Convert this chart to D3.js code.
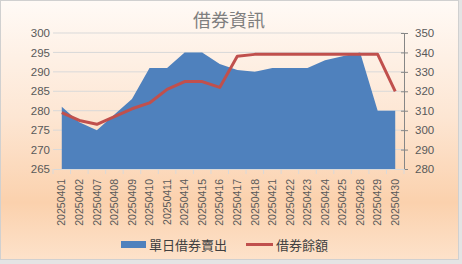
<!DOCTYPE html>
<html><head><meta charset="utf-8">
<script src="https://cdn.jsdelivr.net/npm/d3@7/dist/d3.min.js"></script>
<style>
html,body{margin:0;padding:0;background:#e4e4e4;}
svg{display:block;}
text{font-family:"Liberation Sans","DejaVu Sans",sans-serif;}
.cjk{font-family:"Noto Sans CJK TC","Noto Sans CJK SC",sans-serif;}
</style></head>
<body>
<script>
const title = "借券資訊";
const categories = ["20250401","20250402","20250407","20250408","20250409","20250410","20250411","20250414","20250415","20250416","20250417","20250418","20250421","20250422","20250423","20250424","20250425","20250428","20250429","20250430"];
const dailySell = [281,277,275,279,283,291,291,295,295,292,290.5,290,291,291,291,293,294,295,280,280];
const balance = [309,305,303,307,311,314,321,325,325,322,338,339,339,339,339,339,339,339,339,320];
const seriesNames = ["單日借券賣出","借券餘額"];
const leftTicks = [265,270,275,280,285,290,295,300];
const rightTicks = [280,290,300,310,320,330,340,350];

const W=462,H=264;
const svg=d3.select("body").append("svg").attr("width",W).attr("height",H);
const defs=svg.append("defs");
const g=defs.append("linearGradient").attr("id","bg").attr("x1",0).attr("y1",0).attr("x2",0).attr("y2",1);
g.append("stop").attr("offset","0").attr("stop-color","#fffaf6");
g.append("stop").attr("offset","0.45").attr("stop-color","#fde6d3");
g.append("stop").attr("offset","0.78").attr("stop-color","#fbd1ad");
g.append("stop").attr("offset","1").attr("stop-color","#fde2ca");
svg.append("rect").attr("x",0.5).attr("y",0.5).attr("width",458).attr("height",259)
  .attr("fill","url(#bg)").attr("stroke","#d0d0d0");

const x=d3.scaleBand().domain(categories).range([53,404]).padding(0);
const yL=d3.scaleLinear().domain([265,300]).range([169,33]);
const yR=d3.scaleLinear().domain([280,350]).range([169,33]);
const cx=d=>x(d)+x.bandwidth()/2;

// gridlines
svg.append("g").selectAll("line").data(leftTicks.slice(1)).join("line")
  .attr("x1",53).attr("x2",404).attr("y1",d=>yL(d)).attr("y2",d=>yL(d))
  .attr("stroke","#d9d9d9").attr("stroke-width",1);

// area
const area=d3.area().x((d,i)=>cx(categories[i])).y0(yL(265)).y1(d=>yL(d));
svg.append("path").datum(dailySell).attr("d",area).attr("fill","#4f81bd");

// line
const line=d3.line().x((d,i)=>cx(categories[i])).y(d=>yR(d));
svg.append("path").datum(balance).attr("d",line).attr("fill","none")
  .attr("stroke","#c0504d").attr("stroke-width",3).attr("stroke-linejoin","round");

// left axis
const axL=svg.append("g").attr("transform","translate(53,0)")
  .call(d3.axisLeft(yL).tickValues(leftTicks).tickSize(0).tickPadding(3));
axL.select(".domain").remove();
axL.selectAll("text").attr("font-size",11.5).attr("fill","#595959");

// right axis
const axR=svg.append("g").attr("transform","translate(404,0)")
  .call(d3.axisRight(yR).tickValues(rightTicks).tickSize(4).tickPadding(7));
axR.select(".domain").attr("stroke","#868686");
axR.selectAll(".tick line").attr("stroke","#868686").attr("x1",-3);
axR.selectAll("text").attr("font-size",11.5).attr("fill","#595959");

// bottom axis
const axB=svg.append("g").attr("transform","translate(0,169)")
  .call(d3.axisBottom(x).tickSize(0).tickPadding(0));
axB.select(".domain").attr("stroke","#d9d9d9");
axB.selectAll("text").attr("font-size",10.5).attr("fill","#595959")
  .attr("transform","rotate(-90)").attr("text-anchor","end").attr("dx","-10").attr("dy","0.35em").attr("y",0).attr("x",0);
svg.append("g").selectAll("line").data(d3.range(categories.length+1)).join("line")
  .attr("x1",i=>53+i*x.bandwidth()).attr("x2",i=>53+i*x.bandwidth())
  .attr("y1",169).attr("y2",174).attr("stroke","#d9d9d9");

// title
svg.append("text").attr("class","cjk").attr("x",229).attr("y",27).attr("text-anchor","middle")
  .attr("font-size",18).attr("fill","#7f7f7f").text(title);

// legend
const lg=svg.append("g");
lg.append("rect").attr("x",121).attr("y",241).attr("width",25).attr("height",7).attr("fill","#4f81bd");
lg.append("text").attr("class","cjk").attr("x",149).attr("y",249.5).attr("font-size",13).attr("fill","#404040").text(seriesNames[0]);
lg.append("line").attr("x1",246).attr("x2",273).attr("y1",244.5).attr("y2",244.5).attr("stroke","#c0504d").attr("stroke-width",3);
lg.append("text").attr("class","cjk").attr("x",276).attr("y",249.5).attr("font-size",13).attr("fill","#404040").text(seriesNames[1]);
</script>
</body></html>
